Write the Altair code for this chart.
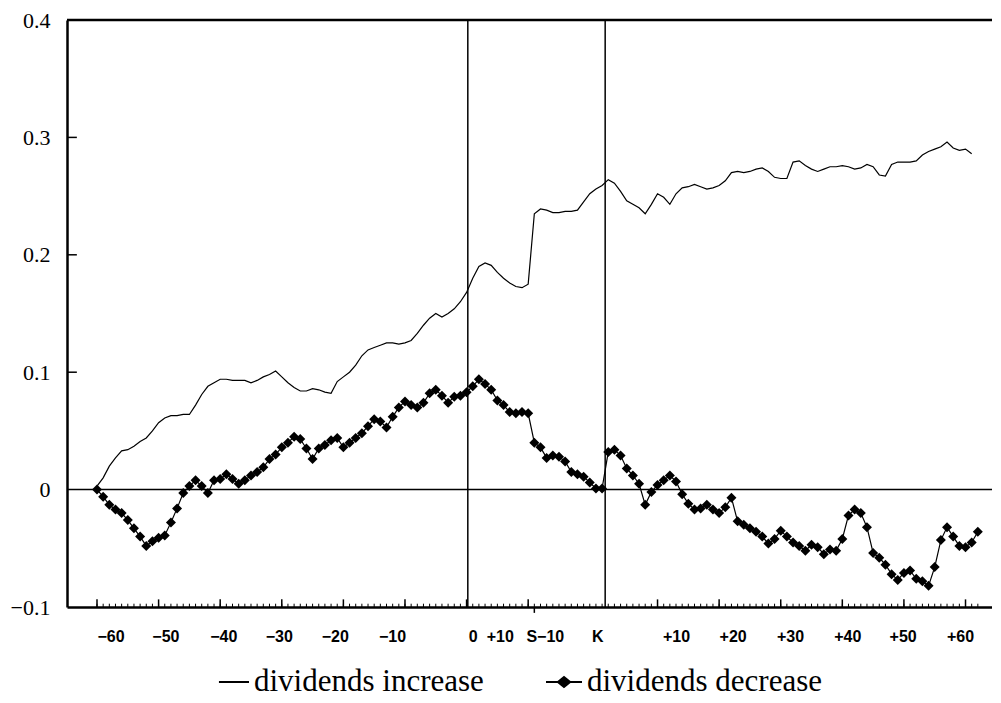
import altair as alt
import pandas as pd

# x positions are consecutive trading-day slots: -60 ... +10 (announcement window),
# S-10 ... K (ex-date window), K+1 ... +60
dec_values = [0.000, -0.006, -0.013, -0.017, -0.020, -0.026, -0.033, -0.040, -0.048, -0.044,
              -0.041, -0.039, -0.028, -0.016, -0.003, 0.003, 0.008, 0.003, -0.003, 0.008,
              0.009, 0.013, 0.009, 0.005, 0.008, 0.012, 0.015, 0.019, 0.026, 0.030,
              0.036, 0.040, 0.045, 0.043, 0.035, 0.026, 0.035, 0.038, 0.042, 0.044,
              0.036, 0.040, 0.044, 0.048, 0.054, 0.060, 0.058, 0.053, 0.062, 0.070,
              0.075, 0.072, 0.070, 0.074, 0.082, 0.085, 0.080, 0.074, 0.079, 0.080,
              0.083, 0.088, 0.094, 0.090, 0.085, 0.076, 0.072, 0.066, 0.065, 0.066,
              0.065, 0.040, 0.036, 0.027, 0.029, 0.028, 0.024, 0.015, 0.013, 0.011,
              0.006, 0.001, 0.001, 0.032, 0.034, 0.029, 0.018, 0.012, 0.005, -0.013,
              -0.002, 0.004, 0.008, 0.012, 0.007, -0.004, -0.012, -0.017, -0.016, -0.013,
              -0.017, -0.020, -0.015, -0.007, -0.027, -0.030, -0.033, -0.036, -0.040, -0.046,
              -0.042, -0.035, -0.040, -0.045, -0.048, -0.052, -0.047, -0.049, -0.055, -0.051,
              -0.052, -0.042, -0.022, -0.017, -0.020, -0.032, -0.054, -0.058, -0.064, -0.072,
              -0.077, -0.071, -0.069, -0.076, -0.078, -0.082, -0.066, -0.043, -0.032, -0.040,
              -0.048, -0.049, -0.045, -0.036]

inc_values = [0.003, 0.010, 0.020, 0.027, 0.033, 0.034, 0.037, 0.041, 0.044, 0.050,
              0.057, 0.061, 0.063, 0.063, 0.064, 0.064, 0.072, 0.081, 0.088, 0.091,
              0.094, 0.094, 0.093, 0.093, 0.093, 0.091, 0.093, 0.096, 0.098, 0.101,
              0.096, 0.091, 0.087, 0.084, 0.084, 0.086, 0.085, 0.083, 0.082, 0.092,
              0.096, 0.100, 0.106, 0.114, 0.119, 0.121, 0.123, 0.125, 0.125, 0.124,
              0.125, 0.127, 0.133, 0.140, 0.146, 0.150, 0.147, 0.150, 0.154, 0.160,
              0.168, 0.180, 0.190, 0.193, 0.191, 0.185, 0.180, 0.176, 0.173, 0.172,
              0.175, 0.235, 0.239, 0.238, 0.236, 0.236, 0.237, 0.237, 0.238, 0.245,
              0.252, 0.256, 0.259, 0.264, 0.261, 0.254, 0.246, 0.243, 0.240, 0.235,
              0.243, 0.252, 0.249, 0.243, 0.252, 0.257, 0.258, 0.260, 0.258, 0.256,
              0.257, 0.259, 0.263, 0.270, 0.271, 0.270, 0.271, 0.273, 0.274, 0.271,
              0.266, 0.265, 0.265, 0.279, 0.280, 0.276, 0.273, 0.271, 0.273, 0.275,
              0.275, 0.276, 0.275, 0.273, 0.274, 0.277, 0.275, 0.268, 0.267, 0.277,
              0.279, 0.279, 0.279, 0.280, 0.285, 0.288, 0.290, 0.292, 0.296, 0.291,
              0.289, 0.290, 0.286]

dec_pos = list(range(len(dec_values)))
inc_pos = list(range(len(inc_values)))

x_label_text = ["−60", "−50", "−40", "−30", "−20", "−10", "0", "+10", "S−10", "K",
                "+10", "+20", "+30", "+40", "+50", "+60"]
x_label_pos = [2.2, 11.1, 20.5, 29.5, 38.6, 47.9, 61.0, 65.4, 72.7, 81.2,
               94.0, 103.2, 112.5, 121.8, 130.8, 140.1]
minor_tick_pos = list(range(0, 144))
major_tick_pos = [0, 10, 20, 30, 40, 50, 60, 70, 91, 101, 111, 121, 131, 141]
event_line_pos = [60.2, 82.5]
y_tick_values = [-0.1, 0.0, 0.1, 0.2, 0.3, 0.4]
y_inner_ticks = [0.1, 0.2, 0.3]
series_names = ["dividends increase", "dividends decrease"]

X_MIN, X_MAX = -4.87, 145.3
Y_MIN, Y_MAX = -0.1, 0.4

xs = alt.Scale(domain=[X_MIN, X_MAX], nice=False, zero=False)
ys = alt.Scale(domain=[Y_MIN, Y_MAX], nice=False, zero=False)

texts_js = "[" + ",".join("'" + t + "'" for t in x_label_text) + "]"
pos_js = "[" + ",".join(str(p) for p in x_label_pos) + "]"

xaxis = alt.Axis(values=x_label_pos, labelExpr=f"{texts_js}[indexof({pos_js}, datum.value)]",
                 ticks=False, grid=False, domain=True, domainColor="black", domainWidth=2.5,
                 labelFont="Liberation Sans", labelFontWeight="bold", labelFontSize=16,
                 labelColor="black", labelPadding=21, labelOverlap=False, labelFlush=False,
                 labelBound=False, title=None)
yaxis = alt.Axis(values=y_tick_values,
                 labelExpr="datum.value == 0 ? '0' : (datum.value < 0 ? '−' : '') + format(abs(datum.value), '.1f')",
                 ticks=False, grid=False, domain=True, domainColor="black", domainWidth=2.5,
                 labelFont="Liberation Serif", labelFontSize=22, labelColor="black",
                 labelPadding=17, labelOverlap=False, labelFlush=False, title=None)

df_inc = pd.DataFrame({"pos": inc_pos, "value": inc_values})
df_dec = pd.DataFrame({"pos": dec_pos, "value": dec_values})

inc_line = alt.Chart(df_inc).mark_line(color="black", strokeWidth=1.2).encode(
    x=alt.X("pos:Q", scale=xs, axis=xaxis, title=None),
    y=alt.Y("value:Q", scale=ys, axis=yaxis, title=None),
)
dec_line = alt.Chart(df_dec).mark_line(color="black", strokeWidth=1.2).encode(
    x=alt.X("pos:Q", title=None), y=alt.Y("value:Q", title=None))
dec_pts = alt.Chart(df_dec).mark_point(shape="diamond", filled=True, size=100,
                                       color="black", opacity=1).encode(
    x=alt.X("pos:Q", title=None), y=alt.Y("value:Q", title=None))

top_line = alt.Chart(pd.DataFrame({"value": [Y_MAX]})).mark_rule(
    color="black", strokeWidth=2.5).encode(y=alt.Y("value:Q", title=None))
zero_line = alt.Chart(pd.DataFrame({"value": [0.0]})).mark_rule(
    color="black", strokeWidth=1.5).encode(y=alt.Y("value:Q", title=None))
event_lines = alt.Chart(pd.DataFrame({"pos": event_line_pos})).mark_rule(
    color="black", strokeWidth=1.5).encode(x=alt.X("pos:Q", title=None))

minor_ticks = alt.Chart(pd.DataFrame({"pos": minor_tick_pos})).mark_rule(
    color="black", strokeWidth=1).encode(
    x=alt.X("pos:Q", title=None), y=alt.datum(Y_MIN), y2=alt.datum(Y_MIN + 0.0028))
major_ticks = alt.Chart(pd.DataFrame({"pos": major_tick_pos})).mark_rule(
    color="black", strokeWidth=1.5).encode(
    x=alt.X("pos:Q", title=None), y=alt.datum(Y_MIN), y2=alt.datum(Y_MIN + 0.0065))
s_tick = alt.Chart(pd.DataFrame({"pos": [71]})).mark_rule(
    color="black", strokeWidth=1.5).encode(
    x=alt.X("pos:Q", title=None), y=alt.datum(Y_MIN), y2=alt.datum(Y_MIN - 0.005))
y_ticks = alt.Chart(pd.DataFrame({"value": y_inner_ticks})).mark_rule(
    color="black", strokeWidth=1.5).encode(
    y=alt.Y("value:Q", title=None), x=alt.datum(X_MIN), x2=alt.datum(X_MIN + 1.6))

inc_path = "M-0.67,0H1"
dec_path = ("M-1,0H1"
            "M-0.34,0L0,-0.27L0.34,0L0,0.27Z"
            "M-0.24,0L0,-0.19L0.24,0L0,0.19Z"
            "M-0.14,0L0,-0.11L0.14,0L0,0.11Z"
            "M-0.05,0L0,-0.04L0.05,0L0,0.04Z")
legend_layer = alt.Chart(pd.DataFrame({"series": series_names})).mark_point(
    filled=False, opacity=0, color="black").encode(
    x=alt.datum(0), y=alt.datum(0),
    shape=alt.Shape("series:N",
                    scale=alt.Scale(domain=series_names, range=[inc_path, dec_path]),
                    legend=alt.Legend(orient="none", legendX=145, legendY=643,
                                      direction="horizontal", title=None,
                                      labelFont="Liberation Serif", labelFontSize=31,
                                      labelColor="black", labelLimit=500,
                                      symbolSize=1296,
                                      symbolFillColor="black", symbolStrokeColor="black",
                                      symbolStrokeWidth=2, symbolOpacity=1,
                                      labelOffset=4, columnPadding=58)),
)

chart = alt.layer(
    top_line, zero_line, event_lines, minor_ticks, major_ticks, s_tick, y_ticks,
    inc_line, dec_line, dec_pts, legend_layer
).properties(
    width=925, height=587,
    autosize=alt.AutoSizeParams(type="none"),
    padding={"left": 59, "top": 12, "right": 0, "bottom": 94},
    background="white",
).configure_view(stroke=None)

chart.save("out.html", embed_options={"renderer": "svg", "actions": False})
